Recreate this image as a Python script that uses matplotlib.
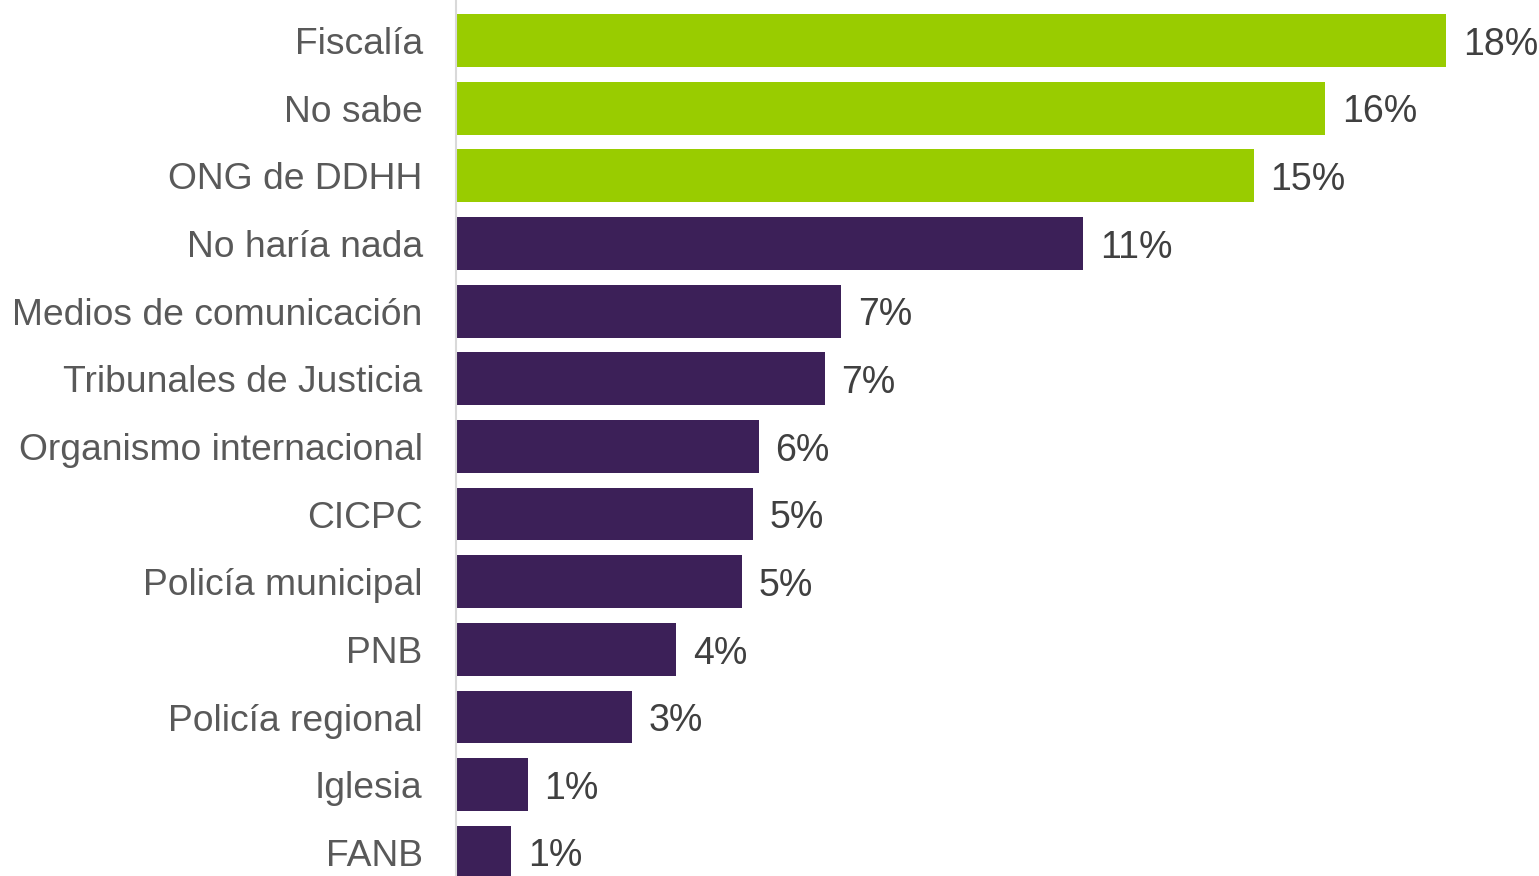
import numpy as np
import matplotlib.pyplot as plt

plt.rcParams["font.family"] = ["Liberation Sans", "DejaVu Sans"]

categories = ["Fiscalía", "No sabe", "ONG de DDHH", "No haría nada",
              "Medios de comunicación", "Tribunales de Justicia",
              "Organismo internacional", "CICPC", "Policía municipal",
              "PNB", "Policía regional", "Iglesia", "FANB"]
values = [18.0, 15.8, 14.5, 11.4, 7.0, 6.7, 5.5, 5.4, 5.2, 4.0, 3.2, 1.3, 1.0]
labels = ["18%", "16%", "15%", "11%", "7%", "7%", "6%", "5%", "5%",
          "4%", "3%", "1%", "1%"]
highlighted = 3

green = "#99cc00"
purple = "#3c2058"

fig = plt.figure(figsize=(15.39, 8.76), dpi=100)
ax = fig.add_axes([456 / 1539, 0, 1 - 456 / 1539, 1])

y = np.arange(len(categories))
colors = [green if i < highlighted else purple for i in range(len(categories))]
bars = ax.barh(y, values, height=0.78, color=colors)

for bar, lab in zip(bars, labels):
    ax.annotate(lab, (bar.get_width(), bar.get_y() + bar.get_height() / 2),
                xytext=(12, -3), textcoords="offset points",
                ha="left", va="center", fontsize=27, color="#404040")

ax.set_xlim(0, (1539 - 456) / 55)
ax.set_ylim(12.35, -0.6)
ax.set_yticks(y)
ax.set_yticklabels(categories, fontsize=26.8, color="#595959")
ax.tick_params(axis="y", length=0, pad=24)
ax.set_xticks([])
for s in ["top", "right", "bottom"]:
    ax.spines[s].set_visible(False)
ax.spines["left"].set_color("#d9d9d9")
ax.spines["left"].set_linewidth(1.5)

fig.savefig("out.png", dpi=100)
